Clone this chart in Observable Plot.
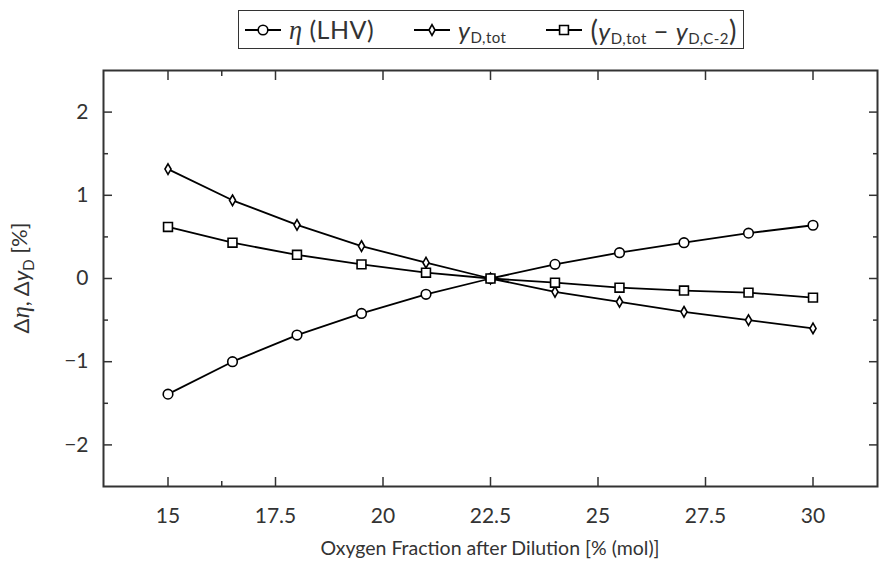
<!DOCTYPE html>
<html>
<head>
<meta charset="utf-8">
<script src="https://cdn.jsdelivr.net/npm/d3@7"></script>
<script src="https://cdn.jsdelivr.net/npm/@observablehq/plot@0.6"></script>
<style>
  html, body { margin: 0; padding: 0; background: #fff; }
  #wrap { position: relative; width: 879px; height: 563px; font-family: Lato, "Open Sans", sans-serif; color: #333; }
  #legendRow { position: relative; width: 879px; height: 56px; }
  #legend {
    position: absolute; left: 238px; top: 10px; width: 506px; height: 39px; box-sizing: border-box;
    border: 1.5px solid #333; display: flex; align-items: center; justify-content: space-between;
    padding: 0 6px 0 6px;
    font-size: 25px; letter-spacing: 0.5px; white-space: nowrap;
  }
  #legend .item { display: flex; align-items: center; }
  #legend svg { display: block; margin: 0 8px 0 0; }
  .mi { font-family: "Liberation Serif", "DejaVu Serif", serif; font-style: italic; font-size: 1.05em; }
  .vi { font-style: italic; }
  sub { font-size: 0.6em; vertical-align: -0.22em; line-height: 0; }
  .big { font-size: 1.12em; }
</style>
</head>
<body>
<div id="wrap">
  <div id="legendRow"><div id="legend"></div></div>
  <div id="chart"></div>
</div>
<script>
// ---- data ----
const xValues = [15, 16.5, 18, 19.5, 21, 22.5, 24, 25.5, 27, 28.5, 30];
const etaLHV  = [-1.39, -1.00, -0.68, -0.42, -0.19, 0, 0.17, 0.31, 0.43, 0.545, 0.64];
const yDtot   = [1.315, 0.94, 0.645, 0.39, 0.19, 0, -0.16, -0.28, -0.40, -0.50, -0.60];
const yDdiff  = [0.62, 0.43, 0.285, 0.17, 0.07, 0, -0.05, -0.11, -0.145, -0.17, -0.23];

const seriesNames = ["eta", "yDtot", "yDdiff"];
const seriesSymbols = ["circle", "diamond", "square"];

const xTicks = [15, 17.5, 20, 22.5, 25, 27.5, 30];
const xTickLabels = ["15", "17.5", "20", "22.5", "25", "27.5", "30"];
const xMinorTicks = [16.25];
const yTicks = [-2, -1, 0, 1, 2];
const yTickLabels = ["\u22122", "\u22121", "0", "1", "2"];
const yMinorTicks = [-1.5, -0.5, 0.5, 1.5];

const xLabel = "Oxygen Fraction after Dilution [% (mol)]";

// ---- build table ----
const seriesValues = [etaLHV, yDtot, yDdiff];
const rows = [];
seriesNames.forEach((s, i) => xValues.forEach((x, j) => rows.push({series: s, symbol: seriesSymbols[i], x, y: seriesValues[i][j]})));

const fmtX = d => xTickLabels[xTicks.indexOf(d)] ?? "";
const fmtY = d => yTickLabels[yTicks.indexOf(d)] ?? "";
const none = () => "";
const tickColor = "#333";

const W = 879, H = 507;
const chart = Plot.plot({
  width: W, height: H,
  marginTop: 14, marginBottom: 77, marginLeft: 103, marginRight: 2,
  style: {fontFamily: "Lato, 'Open Sans', sans-serif", fontSize: "21px", color: "#333", background: "white"},
  x: {domain: [13.5, 31.5], axis: null},
  y: {domain: [-2.5, 2.5], axis: null},
  marks: [
    // major ticks (inward) with labels
    Plot.axisX({anchor: "bottom", ticks: xTicks, tickSize: -9, tickPadding: 31, tickFormat: fmtX, stroke: tickColor, strokeWidth: 1.5, label: null}),
    Plot.axisX({anchor: "top", ticks: xTicks, tickSize: -9, tickFormat: none, stroke: tickColor, strokeWidth: 1.5, label: null}),
    Plot.axisY({anchor: "left", ticks: yTicks, tickSize: -9, tickPadding: 24, tickFormat: fmtY, stroke: tickColor, strokeWidth: 1.5, label: null}),
    Plot.axisY({anchor: "right", ticks: yTicks, tickSize: -9, tickFormat: none, stroke: tickColor, strokeWidth: 1.5, label: null}),
    // minor ticks
    Plot.axisX({anchor: "bottom", ticks: xMinorTicks, tickSize: -5, tickFormat: none, stroke: tickColor, strokeWidth: 1.5, label: null}),
    Plot.axisX({anchor: "top", ticks: xMinorTicks, tickSize: -5, tickFormat: none, stroke: tickColor, strokeWidth: 1.5, label: null}),
    Plot.axisY({anchor: "left", ticks: yMinorTicks, tickSize: -5, tickFormat: none, stroke: tickColor, strokeWidth: 1.5, label: null}),
    Plot.axisY({anchor: "right", ticks: yMinorTicks, tickSize: -5, tickFormat: none, stroke: tickColor, strokeWidth: 1.5, label: null}),
    Plot.line(rows, {x: "x", y: "y", z: "series", stroke: "#000", strokeWidth: 1.8}),
    Plot.dot(rows.filter(d => d.symbol === "circle"), {x: "x", y: "y", symbol: "circle", r: 4.8, fill: "white", stroke: "#000", strokeWidth: 1.6}),
    Plot.dot(rows.filter(d => d.symbol === "diamond"), {x: "x", y: "y", symbol: "diamond", r: 3.2, fill: "white", stroke: "#000", strokeWidth: 1.6}),
    Plot.dot(rows.filter(d => d.symbol === "square"), {x: "x", y: "y", symbol: "square", r: 5.0, fill: "white", stroke: "#000", strokeWidth: 1.6}),
    Plot.frame({stroke: "#333", strokeWidth: 2})
  ]
});
document.getElementById("chart").appendChild(chart);

// axis titles (real text, with math-style tspans)
const svg = d3.select(chart);
const plotCenterX = (103 + (W - 2)) / 2;
svg.append("text")
  .attr("x", plotCenterX).attr("y", 499)
  .attr("text-anchor", "middle")
  .attr("fill", "#333").style("font-size", "19.5px")
  .text(xLabel);

const yl = svg.append("text")
  .attr("transform", `translate(29, ${(14 + (H - 77)) / 2}) rotate(-90)`)
  .attr("text-anchor", "middle")
  .attr("fill", "#333").style("font-size", "22px");
yl.append("tspan").text("\u0394");
yl.append("tspan").attr("font-family", "'Liberation Serif', serif").attr("font-style", "italic").style("font-size", "25px").text("\u03b7");
yl.append("tspan").text(", \u0394");
yl.append("tspan").attr("font-style", "italic").text("y");
yl.append("tspan").attr("dy", "0.3em").style("font-size", "15px").text("D");
yl.append("tspan").attr("dy", "-0.3em").text(" [%]");

// legend
const legendItems = [
  {symbol: "circle", html: '<span class="mi">\u03b7</span>&nbsp;(LHV)'},
  {symbol: "diamond", html: '<span class="vi">y</span><sub>D,tot</sub>'},
  {symbol: "square", html: '<span class="big">(</span><span class="vi">y</span><sub>D,tot</sub>&nbsp;\u2212&nbsp;<span class="vi">y</span><sub>D,C-2</sub><span class="big">)</span>'}
];
const legend = d3.select("#legend");
legendItems.forEach(it => {
  const item = legend.append("div").attr("class", "item");
  const s = item.append("svg").attr("width", 36).attr("height", 20);
  s.append("line").attr("x1", 0).attr("x2", 36).attr("y1", 10).attr("y2", 10).attr("stroke", "#000").attr("stroke-width", 1.8);
  const symMap = {circle: [d3.symbolCircle, 4.8], diamond: [d3.symbolDiamond, 3.2], square: [d3.symbolSquare, 5.0]};
  const [sym, r] = symMap[it.symbol];
  s.append("path").attr("transform", "translate(18,10)").attr("d", d3.symbol(sym, Math.PI * r * r)())
    .attr("fill", "white").attr("stroke", "#000").attr("stroke-width", 1.6);
  item.append("span").html(it.html);
});
</script>
</body>
</html>
